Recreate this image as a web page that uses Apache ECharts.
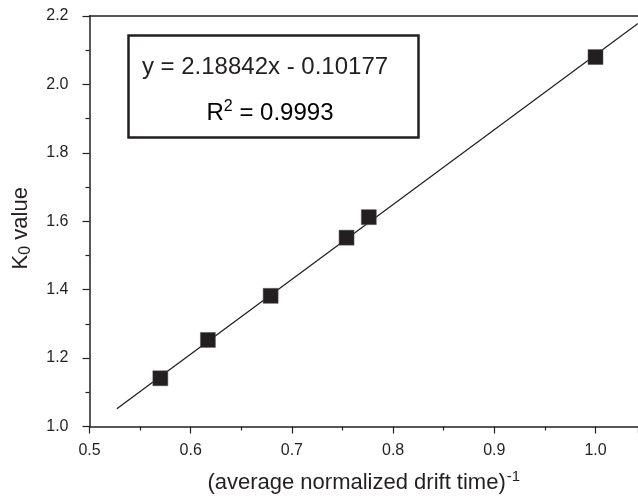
<!DOCTYPE html>
<html>
<head>
<meta charset="utf-8" />
<title>K0 calibration</title>
<script src="https://cdn.jsdelivr.net/npm/echarts@6/dist/echarts.min.js"></script>
</head>
<body style="margin:0; background:#fff">
<div id="chart" style="width:638px; height:496px"></div>
<script type="text/javascript">
// measured points: inverse normalized drift time vs K0
var driftInv = [0.570, 0.617, 0.679, 0.754, 0.776, 1.000];
var k0Values = [1.141, 1.253, 1.382, 1.552, 1.612, 2.080];
// fitted line end points
var fitX = [0.527, 1.042];
var fitY = [1.052, 2.178];
var eqText = 'y = 2.18842x - 0.10177';
var r2Text = '0.9993';

var ink = '#231f20';
var font = 'Liberation Sans, Arial, sans-serif';

var chart = echarts.init(document.getElementById('chart'));

var scatterData = driftInv.map(function (x, i) { return [x, k0Values[i]]; });
var fitData = fitX.map(function (x, i) { return [x, fitY[i]]; });

var option = {
  animation: false,
  backgroundColor: '#fff',
  grid: { left: 89.5, right: 0, top: 16, bottom: 69.5, outerBoundsMode: 'none', containLabel: false },
  xAxis: [{
    type: 'value',
    min: 0.5,
    max: 1.042,
    interval: 0.1,
    name: '{a|(average normalized drift time)}{sup|-1}',
    nameLocation: 'middle',
    nameGap: 43,
    nameTextStyle: {
      rich: {
        a: { fontSize: 22, fontFamily: font, color: ink },
        sup: { fontSize: 15, fontFamily: font, color: ink, padding: [0, 0, 12, 1] }
      }
    },
    axisLine: { show: true, onZero: false, lineStyle: { color: ink, width: 1.5 } },
    axisTick: { show: true, inside: false, length: 7, lineStyle: { color: ink, width: 1.2 } },
    minorTick: { show: true, splitNumber: 2, length: 4, lineStyle: { color: ink, width: 1.2 } },
    splitLine: { show: false },
    axisLabel: {
      color: ink, fontSize: 16, fontFamily: font, margin: 16,
      showMaxLabel: false,
      formatter: function (v) { return v.toFixed(1); }
    }
  }, {
    type: 'value',
    position: 'top',
    min: 0.5,
    max: 1.042,
    axisLine: { show: true, onZero: false, lineStyle: { color: ink, width: 1.5 } },
    axisTick: { show: false },
    axisLabel: { show: false },
    splitLine: { show: false }
  }],
  yAxis: {
    type: 'value',
    min: 1.0,
    max: 2.2,
    interval: 0.2,
    name: '{a|K}{sub|0}{a| value}',
    nameLocation: 'middle',
    nameGap: 56,
    nameTextStyle: {
      padding: [0, 14, 0, 0],
      rich: {
        a: { fontSize: 22, fontFamily: font, color: ink },
        sub: { fontSize: 16, fontFamily: font, color: ink, padding: [10, 0, 0, 0] }
      }
    },
    axisLine: { show: true, onZero: false, lineStyle: { color: ink, width: 1.5 } },
    axisTick: { show: true, inside: false, length: 7, lineStyle: { color: ink, width: 1.2 } },
    minorTick: { show: true, splitNumber: 2, length: 4, lineStyle: { color: ink, width: 1.2 } },
    splitLine: { show: false },
    axisLabel: {
      color: ink, fontSize: 16, fontFamily: font, margin: 21,
      formatter: function (v) { return v.toFixed(1); }
    }
  },
  graphic: [{
    type: 'rect',
    shape: { x: 128.5, y: 35.5, width: 290, height: 102 },
    style: { fill: '#fff', stroke: ink, lineWidth: 2.5 },
    z: 10
  }, {
    type: 'text',
    x: 265, y: 67,
    style: {
      text: eqText, font: '24px ' + font, fill: ink,
      textAlign: 'center', textVerticalAlign: 'middle'
    },
    z: 11
  }, {
    type: 'text',
    x: 270, y: 113,
    style: {
      text: '{a|R}{sup|2}{a| = ' + r2Text + '}',
      textAlign: 'center', textVerticalAlign: 'middle',
      rich: {
        a: { fontSize: 24, fontFamily: font, color: ink },
        sup: { fontSize: 16, fontFamily: font, color: ink, padding: [0, 0, 12, 0] }
      }
    },
    z: 11
  }],
  series: [{
    type: 'line',
    data: fitData,
    symbol: 'none',
    lineStyle: { color: ink, width: 1.3 },
    z: 2
  }, {
    type: 'scatter',
    data: scatterData,
    symbol: 'rect',
    symbolSize: 15,
    itemStyle: { color: ink, borderColor: '#555', borderWidth: 0.5, opacity: 1 },
    z: 3
  }]
};

chart.setOption(option);
</script>
</body>
</html>
